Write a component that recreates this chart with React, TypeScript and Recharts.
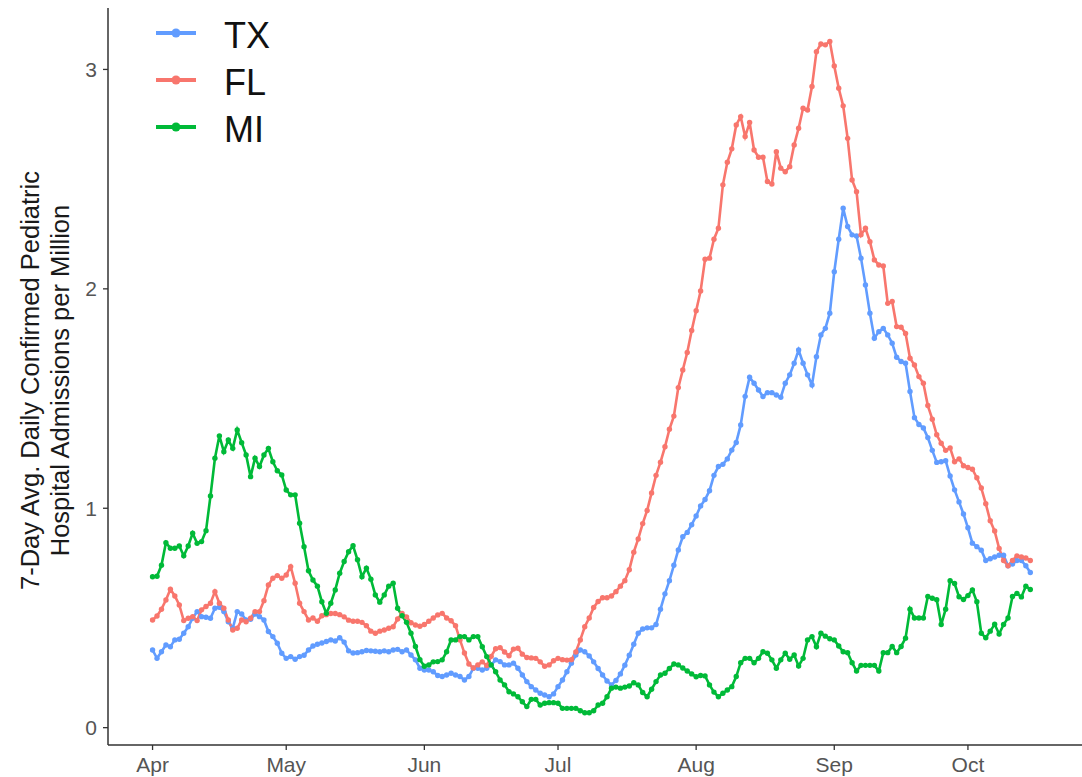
import { LineChart, Line, XAxis, YAxis, Legend } from 'recharts';

// day 0 = Apr 1, one value per day through Oct 15
const TX = [
  0.354, 0.316, 0.346, 0.377, 0.369, 0.4, 0.403, 0.43, 0.46, 0.499,
  0.529, 0.506, 0.503, 0.499, 0.544, 0.549, 0.529, 0.483, 0.453, 0.529,
  0.518, 0.491, 0.494, 0.518, 0.506, 0.491, 0.438, 0.415, 0.385, 0.339,
  0.316, 0.324, 0.312, 0.324, 0.33, 0.354, 0.372, 0.38, 0.386, 0.393,
  0.4, 0.395, 0.41, 0.39, 0.35, 0.34, 0.342, 0.346, 0.352, 0.35,
  0.348, 0.346, 0.35, 0.346, 0.354, 0.357, 0.346, 0.354, 0.331, 0.309,
  0.271, 0.263, 0.263, 0.255, 0.238, 0.233, 0.24, 0.248, 0.24, 0.233,
  0.217, 0.233, 0.271, 0.271, 0.263, 0.271, 0.286, 0.309, 0.301, 0.286,
  0.286, 0.294, 0.271, 0.24, 0.21, 0.187, 0.172, 0.157, 0.149, 0.141,
  0.154, 0.187, 0.217, 0.255, 0.294, 0.331, 0.354, 0.346, 0.327, 0.3,
  0.27, 0.24, 0.213, 0.195, 0.215, 0.245, 0.285, 0.33, 0.38, 0.43,
  0.45, 0.455, 0.455, 0.47, 0.54, 0.61, 0.67, 0.74, 0.81, 0.87,
  0.89, 0.925, 0.965, 1.01, 1.04, 1.08, 1.15, 1.19, 1.2, 1.225,
  1.265, 1.3, 1.38, 1.51, 1.597, 1.57, 1.539, 1.509, 1.527, 1.527,
  1.516, 1.506, 1.57, 1.608, 1.661, 1.721, 1.661, 1.608, 1.562, 1.691,
  1.79, 1.82, 1.889, 2.078, 2.226, 2.367, 2.284, 2.246, 2.241, 2.14,
  2.018, 1.889, 1.775, 1.805, 1.82, 1.79, 1.752, 1.688, 1.669, 1.661,
  1.532, 1.413, 1.382, 1.366, 1.322, 1.264, 1.209, 1.212, 1.217, 1.147,
  1.084, 1.029, 0.974, 0.911, 0.841, 0.825, 0.809, 0.762, 0.77, 0.778,
  0.786, 0.786, 0.738, 0.746, 0.762, 0.762, 0.738, 0.707,
];

const FL = [
  0.491, 0.509, 0.54, 0.582, 0.631, 0.6, 0.559, 0.488, 0.499, 0.506,
  0.488, 0.537, 0.552, 0.567, 0.62, 0.567, 0.544, 0.491, 0.445, 0.453,
  0.491, 0.483, 0.499, 0.529, 0.529, 0.579, 0.65, 0.681, 0.693, 0.681,
  0.696, 0.734, 0.658, 0.567, 0.529, 0.491, 0.5, 0.485, 0.51, 0.515,
  0.52, 0.52, 0.515, 0.505, 0.49, 0.485, 0.485, 0.48, 0.465, 0.44,
  0.43, 0.44, 0.445, 0.453, 0.46, 0.495, 0.52, 0.505, 0.478, 0.468,
  0.462, 0.47, 0.485, 0.5, 0.514, 0.521, 0.5, 0.487, 0.465, 0.4,
  0.34, 0.29, 0.272, 0.286, 0.3, 0.283, 0.325, 0.36, 0.365, 0.345,
  0.328, 0.358, 0.362, 0.335, 0.32, 0.318, 0.316, 0.3, 0.28, 0.286,
  0.305, 0.316, 0.31, 0.308, 0.31, 0.345, 0.4, 0.46, 0.5, 0.548,
  0.575, 0.592, 0.592, 0.6, 0.62, 0.645, 0.67, 0.72, 0.8, 0.86,
  0.93, 0.99, 1.07, 1.15, 1.21, 1.28, 1.36, 1.42, 1.55, 1.63,
  1.71, 1.81, 1.9, 1.99, 2.135, 2.14, 2.226, 2.276, 2.474, 2.577,
  2.638, 2.747, 2.785, 2.694, 2.758, 2.633, 2.6, 2.6, 2.489, 2.478,
  2.625, 2.55, 2.534, 2.557, 2.656, 2.732, 2.823, 2.815, 2.922, 3.081,
  3.116, 3.112, 3.127, 3.016, 2.914, 2.834, 2.686, 2.496, 2.443, 2.246,
  2.276, 2.215, 2.132, 2.109, 2.104, 1.934, 1.942, 1.828, 1.825, 1.797,
  1.684, 1.653, 1.6, 1.57, 1.468, 1.406, 1.335, 1.296, 1.264, 1.275,
  1.212, 1.225, 1.194, 1.186, 1.178, 1.139, 1.092, 1.021, 0.943, 0.896,
  0.817, 0.762, 0.738, 0.762, 0.783, 0.778, 0.773, 0.762,
];

const MI = [
  0.688, 0.69, 0.74, 0.843, 0.818, 0.818, 0.828, 0.783, 0.828, 0.886,
  0.84, 0.848, 0.898, 1.056, 1.228, 1.33, 1.258, 1.311, 1.273, 1.357,
  1.299, 1.243, 1.144, 1.228, 1.19, 1.243, 1.273, 1.212, 1.171, 1.152,
  1.083, 1.061, 1.061, 0.932, 0.825, 0.715, 0.673, 0.645, 0.574, 0.521,
  0.567, 0.628, 0.704, 0.757, 0.802, 0.829, 0.765, 0.688, 0.727, 0.677,
  0.605, 0.572, 0.605, 0.645, 0.658, 0.544, 0.51, 0.48, 0.43, 0.37,
  0.31, 0.28, 0.286, 0.3, 0.301, 0.309, 0.346, 0.4, 0.4, 0.415,
  0.415, 0.4, 0.415, 0.415, 0.369, 0.324, 0.286, 0.255, 0.217, 0.195,
  0.164, 0.154, 0.141, 0.118, 0.096, 0.129, 0.129, 0.103, 0.111, 0.114,
  0.114, 0.111, 0.088, 0.088, 0.088, 0.088, 0.077, 0.068, 0.068, 0.077,
  0.103, 0.111, 0.141, 0.18, 0.185, 0.18, 0.185, 0.19, 0.205, 0.195,
  0.16, 0.141, 0.175, 0.21, 0.24, 0.248, 0.27, 0.29, 0.286, 0.272,
  0.258, 0.245, 0.232, 0.238, 0.236, 0.195, 0.162, 0.141, 0.157, 0.172,
  0.187, 0.233, 0.296, 0.316, 0.316, 0.296, 0.316, 0.346, 0.339, 0.309,
  0.271, 0.309, 0.339, 0.312, 0.331, 0.281, 0.316, 0.4, 0.415, 0.369,
  0.43, 0.417, 0.405, 0.4, 0.372, 0.346, 0.342, 0.296, 0.258, 0.284,
  0.284, 0.284, 0.284, 0.258, 0.342, 0.342, 0.37, 0.342, 0.37, 0.408,
  0.54, 0.5, 0.5, 0.5, 0.598, 0.59, 0.583, 0.47, 0.54, 0.67,
  0.657, 0.597, 0.584, 0.602, 0.628, 0.574, 0.43, 0.41, 0.44, 0.471,
  0.427, 0.47, 0.5, 0.598, 0.612, 0.596, 0.645, 0.63,
];

const monthTicks = [0, 30, 61, 91, 122, 153, 183];
const monthLabels = ['Apr', 'May', 'Jun', 'Jul', 'Aug', 'Sep', 'Oct'];
const yTicks = [0, 1, 2, 3];

const series = [
  { key: 'TX', color: '#619CFF' },
  { key: 'FL', color: '#F8766D' },
  { key: 'MI', color: '#00BA38' },
];

const data = TX.map((v, i) => ({ day: i, TX: v, FL: FL[i], MI: MI[i] }));

const FONT = '"Liberation Sans", Arial, Helvetica, sans-serif';

function AxisTitle(props: any) {
  const vb = props.viewBox || { x: 0, y: 8, width: 108, height: 737 };
  const cy = vb.y + vb.height / 2 + 4;
  return (
    <g transform={`translate(0, ${cy}) rotate(-90)`}>
      <text x={0} y={38.5} textAnchor="middle" fontSize={25.5} fill="#1a1a1a" fontFamily={FONT}>
        7-Day Avg. Daily Confirmed Pediatric
      </text>
      <text x={0} y={68.5} textAnchor="middle" fontSize={25.5} fill="#1a1a1a" fontFamily={FONT}>
        Hospital Admissions per Million
      </text>
    </g>
  );
}

function renderLegend() {
  return (
    <svg width={300} height={160} style={{ display: 'block' }}>
      {series.map((s, i) => {
        const y = 33 + i * 47;
        return (
          <g key={s.key}>
            <line x1={156} x2={196} y1={y} y2={y} stroke={s.color} strokeWidth={4} />
            <circle cx={176} cy={y} r={4.5} fill={s.color} />
            <text x={224} y={y + 15} fontSize={36} fill="#111" fontFamily={FONT}>
              {s.key}
            </text>
          </g>
        );
      })}
    </svg>
  );
}

export default function App() {
  return (
    <div style={{ position: 'absolute', left: 0, top: 0, fontFamily: FONT, background: '#fff' }}>
      <LineChart
        width={1082}
        height={777}
        data={data}
        margin={{ top: 8, right: 0, bottom: 0, left: 0 }}
      >
        <XAxis
          dataKey="day"
          type="number"
          domain={[-10, 208.6]}
          allowDataOverflow
          ticks={monthTicks}
          interval={0}
          tickFormatter={(v: number) => monthLabels[monthTicks.indexOf(v)] ?? ''}
          height={32}
          tickSize={5}
          tickMargin={7}
          axisLine={{ stroke: '#333', strokeWidth: 1.5 }}
          tickLine={{ stroke: '#333', strokeWidth: 1.3 }}
          tick={{ fill: '#555', fontSize: 21, fontFamily: FONT }}
        />
        <YAxis
          type="number"
          domain={[-0.079, 3.28]}
          allowDataOverflow
          ticks={yTicks}
          interval={0}
          width={108}
          tickSize={5}
          tickMargin={6}
          axisLine={{ stroke: '#333', strokeWidth: 1.5 }}
          tickLine={{ stroke: '#333', strokeWidth: 1.3 }}
          tick={{ fill: '#555', fontSize: 21, fontFamily: FONT }}
          label={(p: any) => <AxisTitle {...p} />}
        />
        <Legend
          layout="horizontal"
          verticalAlign="middle"
          align="center"
          wrapperStyle={{ left: 0, top: 0, width: 300, height: 160 }}
          content={renderLegend}
        />
        {series.map((s) => (
          <Line
            key={s.key}
            type="linear"
            dataKey={s.key}
            stroke={s.color}
            strokeWidth={2.6}
            dot={{ r: 2.7, fill: s.color, stroke: s.color, strokeWidth: 0 }}
            activeDot={false}
            isAnimationActive={false}
          />
        ))}
      </LineChart>
    </div>
  );
}
